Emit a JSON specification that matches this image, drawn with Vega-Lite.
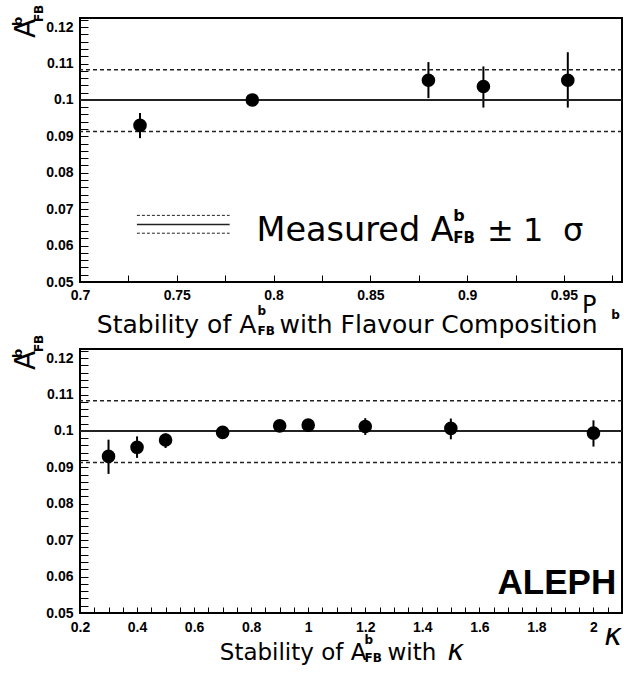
{
  "$schema": "https://vega.github.io/schema/vega-lite/v6.json",
  "background": "white",
  "padding": {"left": 11, "top": 3, "right": 0, "bottom": 0},
  "bounds": "flush",
  "spacing": 67,
  "config": {
    "view": {"stroke": "black", "strokeWidth": 2},
    "axis": {"grid": false, "domain": false, "labelOverlap": false, "labelFlush": false, "tickColor": "black", "labelFont": "Liberation Sans", "labelFontWeight": "bold", "labelFontSize": 14, "labelColor": "black"},
    "style": {"guide-label": {"font": "Liberation Sans", "fontWeight": "bold", "fontSize": 14, "fill": "black"}},
    "text": {"font": "DejaVu Sans", "color": "black", "align": "left", "baseline": "alphabetic"}
  },
  "datasets": {
    "flavour": [
      {"x": 0.731, "y": 0.093, "lo": 0.0895, "hi": 0.0964},
      {"x": 0.789, "y": 0.1, "lo": 0.0992, "hi": 0.1008},
      {"x": 0.88, "y": 0.1054, "lo": 0.1005, "hi": 0.1104},
      {"x": 0.9084, "y": 0.1037, "lo": 0.0979, "hi": 0.1092},
      {"x": 0.952, "y": 0.1054, "lo": 0.0979, "hi": 0.1131}
    ],
    "kappa": [
      {"x": 0.3, "y": 0.093, "lo": 0.0882, "hi": 0.0976},
      {"x": 0.4, "y": 0.0955, "lo": 0.0926, "hi": 0.0985},
      {"x": 0.5, "y": 0.0975, "lo": 0.0953, "hi": 0.0993},
      {"x": 0.7, "y": 0.0996, "lo": 0.0988, "hi": 0.1004},
      {"x": 0.9, "y": 0.1014, "lo": 0.1005, "hi": 0.1023},
      {"x": 1.0, "y": 0.1016, "lo": 0.1007, "hi": 0.1025},
      {"x": 1.2, "y": 0.1012, "lo": 0.0989, "hi": 0.1035},
      {"x": 1.5, "y": 0.1007, "lo": 0.0977, "hi": 0.1034},
      {"x": 2.0, "y": 0.0994, "lo": 0.0957, "hi": 0.1029}
    ],
    "one": [{}]
  },
  "vconcat": [
    {
      "width": 542,
      "height": 264,
      "resolve": {"axis": {"x": "independent", "y": "independent"}},
      "layer": [
        {
          "data": {"name": "flavour"},
          "mark": {"type": "rule", "color": "black", "strokeWidth": 2},
          "encoding": {
            "x": {"field": "x", "type": "quantitative", "title": null, "scale": {"domain": [0.7, 0.98], "nice": false, "zero": false},
              "axis": {"orient": "bottom", "grid": false, "domain": false, "labelFont": "Liberation Sans", "labelFontWeight": "bold", "labelFontSize": 14, "labelColor": "black", "tickColor": "black", "tickWidth": 1, "labelOverlap": false, "labelFlush": false, "labelBound": false,
                "values": [0.7, 0.725, 0.75, 0.775, 0.8, 0.825, 0.85, 0.875, 0.9, 0.925, 0.95, 0.975],
                "labelExpr": "abs(datum.value*20 - round(datum.value*20)) < 0.001 ? format(datum.value, '~g') : ''",
                "tickSize": -7,
                "labelPadding": 13}},
            "y": {"field": "lo", "type": "quantitative", "title": null, "scale": {"domain": [0.05, 0.1225], "nice": false, "zero": false},
              "axis": {"orient": "left", "grid": false, "domain": false, "labelFont": "Liberation Sans", "labelFontWeight": "bold", "labelFontSize": 14, "labelColor": "black", "tickColor": "black", "tickWidth": 1, "labelOverlap": false, "labelFlush": false, "labelBound": false,
                "values": [0.05, 0.052, 0.054, 0.056, 0.058, 0.06, 0.062, 0.064, 0.066, 0.068, 0.07, 0.072, 0.074, 0.076, 0.078, 0.08, 0.082, 0.084, 0.086, 0.088, 0.09, 0.092, 0.094, 0.096, 0.098, 0.1, 0.102, 0.104, 0.106, 0.108, 0.11, 0.112, 0.114, 0.116, 0.118, 0.12, 0.122],
                "labelExpr": "abs(datum.value*100 - round(datum.value*100)) < 0.001 ? format(datum.value, '~g') : ''",
                "tickSize": -8,
                "labelPadding": 15}},
            "y2": {"field": "hi"}
          }
        },
        {"data": {"name": "one"}, "mark": {"type": "rule", "color": "#222", "strokeWidth": 2}, "encoding": {"y": {"datum": 0.1, "axis": null}}},
        {"data": {"name": "one"}, "mark": {"type": "rule", "color": "#222", "strokeWidth": 1.5, "strokeDash": [4, 3]}, "encoding": {"y": {"datum": 0.1083, "axis": null}}},
        {"data": {"name": "one"}, "mark": {"type": "rule", "color": "#222", "strokeWidth": 1.5, "strokeDash": [4, 3]}, "encoding": {"y": {"datum": 0.0913, "axis": null}}},
        {"data": {"name": "one"}, "mark": {"type": "rule", "color": "#222", "strokeWidth": 1, "strokeDash": [3, 2]}, "encoding": {"x": {"datum": 0.7294, "axis": null}, "x2": {"datum": 0.7773}, "y": {"datum": 0.0683, "axis": null}}},
        {"data": {"name": "one"}, "mark": {"type": "rule", "color": "#222", "strokeWidth": 1.5}, "encoding": {"x": {"datum": 0.7294, "axis": null}, "x2": {"datum": 0.7773}, "y": {"datum": 0.0658, "axis": null}}},
        {"data": {"name": "one"}, "mark": {"type": "rule", "color": "#222", "strokeWidth": 1, "strokeDash": [3, 2]}, "encoding": {"x": {"datum": 0.7294, "axis": null}, "x2": {"datum": 0.7773}, "y": {"datum": 0.0634, "axis": null}}},
        {
          "data": {"name": "flavour"},
          "mark": {"type": "point", "shape": "circle", "filled": true, "color": "black", "opacity": 1, "size": 185},
          "encoding": {"x": {"field": "x", "type": "quantitative", "axis": null}, "y": {"field": "y", "type": "quantitative", "axis": null}}
        },
        {"data": {"name": "one"}, "mark": {"type": "text", "text": "A", "angle": 270, "fontSize": 28, "dx": -11, "dy": -45}, "encoding": {"x": {"datum": 0.7, "axis": null}, "y": {"datum": 0.12, "axis": null}}},
        {"data": {"name": "one"}, "mark": {"type": "text", "text": "b", "angle": 270, "fontSize": 13, "fontWeight": "bold", "dx": 1, "dy": -58}, "encoding": {"x": {"datum": 0.7, "axis": null}, "y": {"datum": 0.12, "axis": null}}},
        {"data": {"name": "one"}, "mark": {"type": "text", "text": "FB", "angle": 270, "fontSize": 12, "fontWeight": "bold", "dx": 5, "dy": -37}, "encoding": {"x": {"datum": 0.7, "axis": null}, "y": {"datum": 0.12, "axis": null}}},
        {"data": {"name": "one"}, "mark": {"type": "text", "text": "Stability of A", "fontSize": 25, "dy": 51}, "encoding": {"x": {"datum": 0.7087, "axis": null}, "y": {"datum": 0.05, "axis": null}}},
        {"data": {"name": "one"}, "mark": {"type": "text", "text": "b", "fontSize": 12, "fontWeight": "bold", "dy": 33}, "encoding": {"x": {"datum": 0.7917, "axis": null}, "y": {"datum": 0.05, "axis": null}}},
        {"data": {"name": "one"}, "mark": {"type": "text", "text": "FB", "fontSize": 12, "fontWeight": "bold", "dy": 53}, "encoding": {"x": {"datum": 0.7917, "axis": null}, "y": {"datum": 0.05, "axis": null}}},
        {"data": {"name": "one"}, "mark": {"type": "text", "text": "with Flavour Composition", "fontSize": 25, "dy": 51}, "encoding": {"x": {"datum": 0.8031, "axis": null}, "y": {"datum": 0.05, "axis": null}}},
        {"data": {"name": "one"}, "mark": {"type": "text", "text": "P", "fontSize": 24, "dy": 31}, "encoding": {"x": {"datum": 0.9593, "axis": null}, "y": {"datum": 0.05, "axis": null}}},
        {"data": {"name": "one"}, "mark": {"type": "text", "text": "b", "fontSize": 12, "fontWeight": "bold", "dy": 37}, "encoding": {"x": {"datum": 0.9745, "axis": null}, "y": {"datum": 0.05, "axis": null}}},
        {"data": {"name": "one"}, "mark": {"type": "text", "text": "Measured A", "fontSize": 33.5}, "encoding": {"x": {"datum": 0.7912, "axis": null}, "y": {"datum": 0.0613, "axis": null}}},
        {"data": {"name": "one"}, "mark": {"type": "text", "text": "b", "fontSize": 16, "fontWeight": "bold", "dy": -20}, "encoding": {"x": {"datum": 0.8928, "axis": null}, "y": {"datum": 0.0613, "axis": null}}},
        {"data": {"name": "one"}, "mark": {"type": "text", "text": "FB", "fontSize": 15, "fontWeight": "bold", "dy": 2}, "encoding": {"x": {"datum": 0.8928, "axis": null}, "y": {"datum": 0.0613, "axis": null}}},
        {"data": {"name": "one"}, "mark": {"type": "text", "text": "±", "fontSize": 32}, "encoding": {"x": {"datum": 0.9103, "axis": null}, "y": {"datum": 0.0613, "axis": null}}},
        {"data": {"name": "one"}, "mark": {"type": "text", "text": "1", "fontSize": 32}, "encoding": {"x": {"datum": 0.9288, "axis": null}, "y": {"datum": 0.0613, "axis": null}}},
        {"data": {"name": "one"}, "mark": {"type": "text", "text": "σ", "fontSize": 32}, "encoding": {"x": {"datum": 0.9495, "axis": null}, "y": {"datum": 0.0613, "axis": null}}}
      ]
    },
    {
      "width": 542,
      "height": 264,
      "resolve": {"axis": {"x": "independent", "y": "independent"}},
      "layer": [
        {
          "data": {"name": "kappa"},
          "mark": {"type": "rule", "color": "black", "strokeWidth": 2},
          "encoding": {
            "x": {"field": "x", "type": "quantitative", "title": null, "scale": {"domain": [0.2, 2.1], "nice": false, "zero": false},
              "axis": {"orient": "bottom", "grid": false, "domain": false, "labelFont": "Liberation Sans", "labelFontWeight": "bold", "labelFontSize": 14, "labelColor": "black", "tickColor": "black", "tickWidth": 1, "labelOverlap": false, "labelFlush": false, "labelBound": false,
                "values": [0.2, 0.25, 0.3, 0.35, 0.4, 0.45, 0.5, 0.55, 0.6, 0.65, 0.7, 0.75, 0.8, 0.85, 0.9, 0.95, 1, 1.05, 1.1, 1.15, 1.2, 1.25, 1.3, 1.35, 1.4, 1.45, 1.5, 1.55, 1.6, 1.65, 1.7, 1.75, 1.8, 1.85, 1.9, 1.95, 2, 2.05, 2.1],
                "labelExpr": "abs(datum.value*5 - round(datum.value*5)) < 0.001 && datum.value < 2.05 ? format(datum.value, '~g') : ''",
                "tickSize": -6,
                "labelPadding": 13}},
            "y": {"field": "lo", "type": "quantitative", "title": null, "scale": {"domain": [0.05, 0.1225], "nice": false, "zero": false},
              "axis": {"orient": "left", "grid": false, "domain": false, "labelFont": "Liberation Sans", "labelFontWeight": "bold", "labelFontSize": 14, "labelColor": "black", "tickColor": "black", "tickWidth": 1, "labelOverlap": false, "labelFlush": false, "labelBound": false,
                "values": [0.05, 0.052, 0.054, 0.056, 0.058, 0.06, 0.062, 0.064, 0.066, 0.068, 0.07, 0.072, 0.074, 0.076, 0.078, 0.08, 0.082, 0.084, 0.086, 0.088, 0.09, 0.092, 0.094, 0.096, 0.098, 0.1, 0.102, 0.104, 0.106, 0.108, 0.11, 0.112, 0.114, 0.116, 0.118, 0.12, 0.122],
                "labelExpr": "abs(datum.value*100 - round(datum.value*100)) < 0.001 ? format(datum.value, '~g') : ''",
                "tickSize": -8,
                "labelPadding": 15}},
            "y2": {"field": "hi"}
          }
        },
        {"data": {"name": "one"}, "mark": {"type": "rule", "color": "#222", "strokeWidth": 2}, "encoding": {"y": {"datum": 0.1, "axis": null}}},
        {"data": {"name": "one"}, "mark": {"type": "rule", "color": "#222", "strokeWidth": 1.5, "strokeDash": [4, 3]}, "encoding": {"y": {"datum": 0.1083, "axis": null}}},
        {"data": {"name": "one"}, "mark": {"type": "rule", "color": "#222", "strokeWidth": 1.5, "strokeDash": [4, 3]}, "encoding": {"y": {"datum": 0.0913, "axis": null}}},
        {
          "data": {"name": "kappa"},
          "mark": {"type": "point", "shape": "circle", "filled": true, "color": "black", "opacity": 1, "size": 185},
          "encoding": {"x": {"field": "x", "type": "quantitative", "axis": null}, "y": {"field": "y", "type": "quantitative", "axis": null}}
        },
        {"data": {"name": "one"}, "mark": {"type": "text", "text": "A", "angle": 270, "fontSize": 28, "dx": -12, "dy": -45}, "encoding": {"x": {"datum": 0.2, "axis": null}, "y": {"datum": 0.12, "axis": null}}},
        {"data": {"name": "one"}, "mark": {"type": "text", "text": "b", "angle": 270, "fontSize": 13, "fontWeight": "bold", "dx": 0, "dy": -58}, "encoding": {"x": {"datum": 0.2, "axis": null}, "y": {"datum": 0.12, "axis": null}}},
        {"data": {"name": "one"}, "mark": {"type": "text", "text": "FB", "angle": 270, "fontSize": 12, "fontWeight": "bold", "dx": 6, "dy": -37}, "encoding": {"x": {"datum": 0.2, "axis": null}, "y": {"datum": 0.12, "axis": null}}},
        {"data": {"name": "one"}, "mark": {"type": "text", "text": "Stability of A", "fontSize": 23, "dy": 47}, "encoding": {"x": {"datum": 0.69, "axis": null}, "y": {"datum": 0.05, "axis": null}}},
        {"data": {"name": "one"}, "mark": {"type": "text", "text": "b", "fontSize": 12, "fontWeight": "bold", "dy": 31}, "encoding": {"x": {"datum": 1.1975, "axis": null}, "y": {"datum": 0.05, "axis": null}}},
        {"data": {"name": "one"}, "mark": {"type": "text", "text": "FB", "fontSize": 12, "fontWeight": "bold", "dy": 49}, "encoding": {"x": {"datum": 1.1975, "axis": null}, "y": {"datum": 0.05, "axis": null}}},
        {"data": {"name": "one"}, "mark": {"type": "text", "text": "with", "fontSize": 23, "dy": 47}, "encoding": {"x": {"datum": 1.278, "axis": null}, "y": {"datum": 0.05, "axis": null}}},
        {"data": {"name": "one"}, "mark": {"type": "text", "text": "κ", "fontSize": 28, "fontStyle": "italic", "dy": 47}, "encoding": {"x": {"datum": 1.488, "axis": null}, "y": {"datum": 0.05, "axis": null}}},
        {"data": {"name": "one"}, "mark": {"type": "text", "text": "κ", "fontSize": 30, "fontStyle": "italic", "dy": 32}, "encoding": {"x": {"datum": 2.0376, "axis": null}, "y": {"datum": 0.05, "axis": null}}},
        {"data": {"name": "one"}, "mark": {"type": "text", "text": "ALEPH", "font": "Liberation Sans", "fontWeight": "bold", "fontSize": 35, "align": "right"}, "encoding": {"x": {"datum": 2.0796, "axis": null}, "y": {"datum": 0.0553, "axis": null}}}
      ]
    }
  ]
}
